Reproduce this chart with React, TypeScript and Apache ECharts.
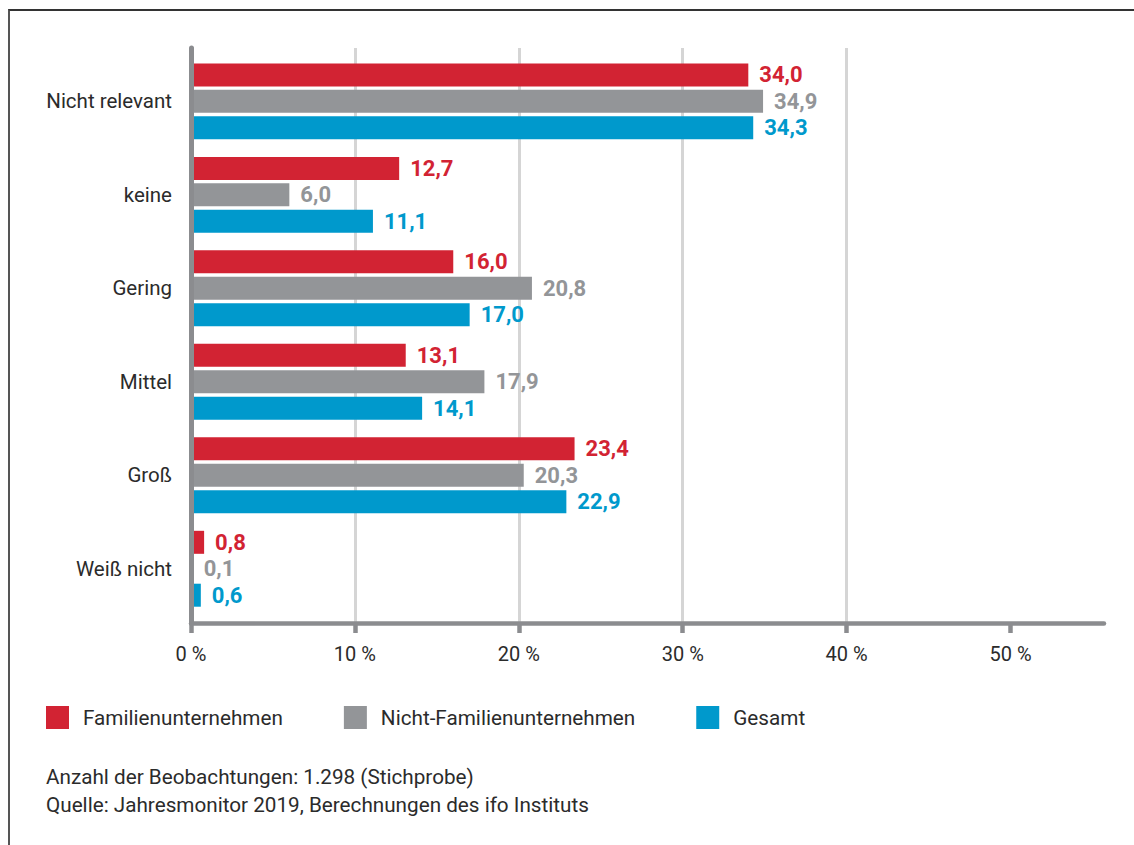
import React, { useEffect, useRef } from "react";
import * as echarts from "echarts";

const categories = ["Nicht relevant", "keine", "Gering", "Mittel", "Groß", "Weiß nicht"];
const seriesNames = ["Familienunternehmen", "Nicht-Familienunternehmen", "Gesamt"];
const familien = [34.0, 12.7, 16.0, 13.1, 23.4, 0.8];
const nichtFamilien = [34.9, 6.0, 20.8, 17.9, 20.3, 0.1];
const gesamt = [34.3, 11.1, 17.0, 14.1, 22.9, 0.6];
const tickValues = [0, 10, 20, 30, 40, 50];
const axisMax = 55.7;
const footnotes = [
  "Anzahl der Beobachtungen: 1.298 (Stichprobe)",
  "Quelle: Jahresmonitor 2019, Berechnungen des ifo Instituts",
];

const colors = ["#d22333", "#939598", "#0099cc"];
const FONT = "Roboto, 'Noto Sans', sans-serif";
const TEXT = "#2b2b2b";
const AXIS = "#8b8c8f";

export default function App() {
  const ref = useRef<HTMLDivElement>(null);
  useEffect(() => {
    if (!ref.current) return;
    const chart = echarts.init(ref.current, null, { renderer: "svg" });
    const fmt = (v: number) => v.toFixed(1).replace(".", ",");
    const data = [familien, nichtFamilien, gesamt];
    chart.setOption({
      animation: false,
      textStyle: { fontFamily: FONT },
      title: {
        left: 46,
        top: 763,
        padding: 0,
        text: footnotes.join("\n"),
        textStyle: { fontFamily: FONT, fontSize: 20.7, fontWeight: "normal", color: TEXT, lineHeight: 28 },
      },
      legend: {
        left: 46,
        top: 706,
        padding: 0,
        icon: "rect",
        itemWidth: 23,
        itemHeight: 23,
        itemGap: 61,
        data: seriesNames,
        textStyle: { fontFamily: FONT, fontSize: 20.7, color: TEXT, padding: [0, 0, 0, 9] },
      },
      grid: [
        { left: 191, right: 30, top: 48, bottom: 222 },
        { left: 191, right: 30, top: 54.6, bottom: 229.5 },
      ],
      xAxis: [
        {
          gridIndex: 0,
          type: "value",
          min: 0,
          max: axisMax,
          interval: 10,
          axisLine: { show: true, lineStyle: { color: AXIS, width: 4.5 } },
          axisTick: { show: true, length: 10, lineStyle: { color: AXIS, width: 4.5 }, customValues: tickValues },
          axisLabel: {
            customValues: tickValues,
            formatter: (v: number) => v + " %",
            fontFamily: FONT,
            fontSize: 20,
            color: TEXT,
            margin: 21,
          },
          splitLine: { show: true, showMinLine: false, showMaxLine: false, lineStyle: { color: "#d5d5d5", width: 3 } },
        },
        {
          gridIndex: 1,
          type: "value",
          min: 0,
          max: axisMax,
          show: false,
          splitLine: { show: false },
        },
      ],
      yAxis: [
        {
          gridIndex: 0,
          type: "category",
          data: categories,
          inverse: true,
          z: 5,
          axisLine: { show: true, lineStyle: { color: AXIS, width: 5 } },
          axisTick: { show: false },
          axisLabel: { show: false },
          splitLine: { show: false },
        },
        {
          gridIndex: 1,
          type: "category",
          data: categories,
          inverse: true,
          axisLine: { show: false },
          axisTick: { show: false },
          axisLabel: { fontFamily: FONT, fontSize: 20.5, color: TEXT, margin: 19 },
          splitLine: { show: false },
        },
      ],
      series: seriesNames.map((name, i) => ({
        name,
        type: "bar",
        xAxisIndex: 1,
        yAxisIndex: 1,
        data: data[i],
        barWidth: 23,
        barGap: "15%",
        itemStyle: { color: colors[i] },
        label: {
          show: true,
          position: "right",
          distance: 11,
          formatter: (p: any) => fmt(p.value),
          fontFamily: FONT,
          fontSize: 22,
          fontWeight: "bold",
          color: colors[i],
        },
      })),
    });
    return () => chart.dispose();
  }, []);
  return (
    <div style={{ position: "fixed", left: 0, top: 0, width: 1134, height: 845, background: "#fff" }}>
      <div
        style={{
          position: "absolute",
          left: 8,
          top: 9,
          right: 0,
          bottom: 0,
          borderTop: "2px solid #333",
          borderLeft: "2px solid #555",
        }}
      />
      <div ref={ref} style={{ position: "absolute", left: 0, top: 0, width: 1134, height: 845 }} />
    </div>
  );
}
